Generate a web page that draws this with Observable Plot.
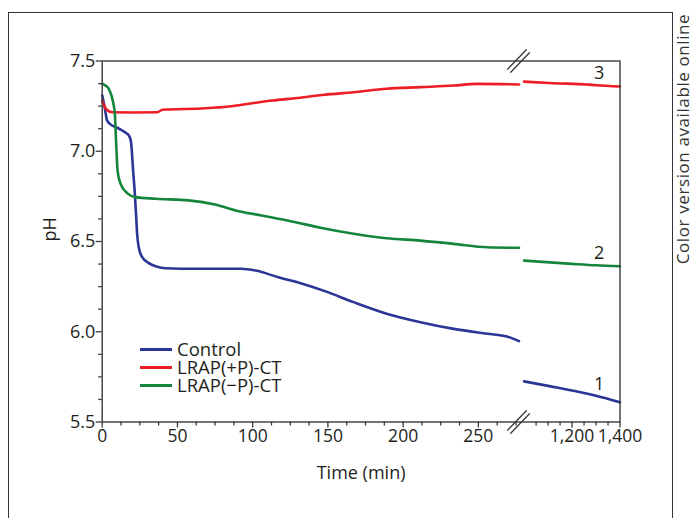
<!DOCTYPE html>
<html>
<head>
<meta charset="utf-8">
<script src="https://cdn.jsdelivr.net/npm/d3@7"></script>
<script src="https://cdn.jsdelivr.net/npm/@observablehq/plot@0.6"></script>
<style>
  html, body { margin: 0; padding: 0; background: #fff; }
  #wrap { position: relative; width: 693px; height: 518px; overflow: hidden; font-family: "Open Sans", sans-serif; color: #231f20; }
  #outer { position: absolute; left: 8px; top: 12px; width: 665px; height: 620px; border: 1.3px solid #333; box-sizing: border-box; }
  #side { position: absolute; left: 682px; top: 139px; transform: translate(-50%, -50%) rotate(-90deg); white-space: nowrap; font-size: 17px; letter-spacing: 0.6px; color: #333; }
  #legend { position: absolute; left: 140px; top: 340px; font-size: 18.5px; line-height: 18px; }
  #legend .row { display: flex; align-items: center; height: 18px; }
  #legend .sw { width: 32px; height: 3px; margin-right: 5px; }
  #chart { position: absolute; left: 0; top: 0; }
</style>
</head>
<body>
<div id="wrap">
  <div id="outer"></div>
  <div id="chart"></div>
  <div id="side">Color version available online</div>
  <div id="legend"></div>
</div>
<script>
// ---- data ----
const seriesNames = ["Control", "LRAP(+P)-CT", "LRAP(\u2212P)-CT"];
const seriesColors = ["#2b3595", "#ee1c25", "#16853c"];
const curveLabels = ["1", "3", "2"];

const controlTime = [0, 1.5, 3.3, 6.6, 10, 13.3, 16, 17.7, 19, 19.5, 20.4, 21.7, 22.6, 23.2, 24.5, 26.6, 31, 36, 42, 62, 92, 102, 117, 133, 148, 167, 189, 211.5, 233.6, 256, 269, 277];
const controlPH   = [7.31, 7.25, 7.17, 7.143, 7.13, 7.115, 7.10, 7.087, 7.06, 7.023, 6.91, 6.764, 6.635, 6.543, 6.46, 6.413, 6.38, 6.362, 6.352, 6.349, 6.349, 6.339, 6.302, 6.266, 6.225, 6.164, 6.10, 6.053, 6.016, 5.989, 5.974, 5.948];
const controlTimeLate = [1000, 1100, 1235, 1300, 1400];
const controlPHLate   = [5.725, 5.70, 5.665, 5.645, 5.609];

const plusTime = [0, 1.5, 3, 6.6, 20, 36.5, 40, 68.6, 84, 99.6, 113, 128, 148, 167, 189, 211.5, 233.6, 249, 277];
const plusPH   = [7.28, 7.25, 7.23, 7.216, 7.215, 7.216, 7.23, 7.238, 7.248, 7.266, 7.281, 7.294, 7.313, 7.327, 7.346, 7.355, 7.364, 7.373, 7.37];
const plusTimeLate = [1000, 1123, 1262, 1300, 1400];
const plusPHLate   = [7.386, 7.377, 7.37, 7.366, 7.359];

const minusTime = [0, 2, 4.4, 7, 8.4, 9.3, 10.2, 12.2, 16.6, 22.1, 35.4, 57.5, 75, 88.6, 106, 117, 124, 145, 167, 189, 211.5, 233.6, 256, 277];
const minusPH   = [7.374, 7.365, 7.346, 7.281, 7.207, 7.041, 6.893, 6.82, 6.768, 6.746, 6.737, 6.728, 6.705, 6.672, 6.644, 6.626, 6.615, 6.576, 6.543, 6.518, 6.505, 6.487, 6.468, 6.465];
const minusTimeLate = [1000, 1200, 1300, 1400];
const minusPHLate   = [6.394, 6.376, 6.368, 6.363];

const xDomain = [0, 278, 985, 1400];      // broken time axis (min)
const yDomain = [5.5, 7.5];
const xMajorTicks = [0, 50, 100, 150, 200, 250, 1200, 1400];
const xMinorTicks = [12.5, 25, 37.5, 62.5, 75, 87.5, 112.5, 125, 137.5, 162.5, 175, 187.5, 212.5, 225, 237.5, 262.5, 275, 1050, 1100, 1150, 1250, 1300, 1350];
const yMajorTicks = [5.5, 6.0, 6.5, 7.0, 7.5];
const yMinorTicks = [5.625, 5.75, 5.875, 6.125, 6.25, 6.375, 6.625, 6.75, 6.875, 7.125, 7.25, 7.375];

// ---- build table ----
const groups = [
  [seriesNames[0], controlTime, controlPH, controlTimeLate, controlPHLate, curveLabels[0]],
  [seriesNames[1], plusTime, plusPH, plusTimeLate, plusPHLate, curveLabels[1]],
  [seriesNames[2], minusTime, minusPH, minusTimeLate, minusPHLate, curveLabels[2]]
];
const rows = [];
const labelRows = [];
for (const [name, t1, p1, t2, p2, lab] of groups) {
  t1.forEach((t, i) => rows.push({series: name, seg: name + "-a", t, ph: p1[i]}));
  t2.forEach((t, i) => rows.push({series: name, seg: name + "-b", t, ph: p2[i]}));
  const k = t2.indexOf(1300);
  labelRows.push({t: t2[k], ph: p2[k], text: lab});
}
const breaks = [{t: xDomain[1], ph: yDomain[1]}, {t: xDomain[1], ph: yDomain[0]}];

const axisColor = "#3a3a3a";
const W = 693, H = 518;
const pLeft = 101.7, pRight = 619.5, pTop = 60.5, pBottom = 421.5, pBreak = 520;

const chart = Plot.plot({
  width: W, height: H,
  marginLeft: pLeft, marginRight: W - pRight, marginTop: pTop, marginBottom: H - pBottom,
  style: {fontFamily: "Open Sans, sans-serif", background: "transparent", color: "#231f20"},
  x: {type: "linear", domain: xDomain, range: [pLeft, pBreak, pBreak, pRight]},
  y: {domain: yDomain},
  color: {domain: seriesNames, range: seriesColors},
  marks: [
    Plot.lineY(rows, {x: "t", y: "ph", z: "seg", stroke: "series", strokeWidth: 2.6, curve: "monotone-x"}),
    Plot.frame({stroke: axisColor, strokeWidth: 1.4}),
    Plot.axisX({ticks: xMinorTicks, tickSize: 4, text: null, label: null, stroke: axisColor, strokeWidth: 1.3}),
    Plot.axisX({ticks: xMajorTicks, tickSize: 6, tickPadding: 2, fontSize: 17.5, label: null, stroke: axisColor, strokeWidth: 1.3, tickFormat: d3.format(",")}),
    Plot.axisY({ticks: yMinorTicks, tickSize: 3.5, text: null, label: null, stroke: axisColor, strokeWidth: 1.3}),
    Plot.axisY({ticks: yMajorTicks, tickSize: 6, tickPadding: 1, fontSize: 18, label: null, stroke: axisColor, strokeWidth: 1.3, tickFormat: d3.format(".1f")}),
    Plot.vector(breaks, {x: "t", y: "ph", length: 27, rotate: 44, anchor: "middle", dx: -2, stroke: axisColor, strokeWidth: 1.3,
      shape: {draw(context, l) { context.moveTo(-2.2, 0); context.lineTo(-2.2, -l); context.moveTo(2.2, 0); context.lineTo(2.2, -l); }}}),
    Plot.text(labelRows, {x: "t", y: "ph", text: "text", dx: 3, dy: -12, fontSize: 18}),
    Plot.text(["pH"], {frameAnchor: "left", dx: -52, rotate: -90, fontSize: 18}),
    Plot.text(["Time (min)"], {frameAnchor: "bottom", dy: 56.5, fontSize: 18})
  ]
});
document.getElementById("chart").appendChild(chart);

const legend = document.getElementById("legend");
seriesNames.forEach((n, i) => {
  const row = document.createElement("div");
  row.className = "row";
  const sw = document.createElement("span");
  sw.className = "sw";
  sw.style.background = seriesColors[i];
  const tx = document.createElement("span");
  tx.textContent = n;
  row.appendChild(sw); row.appendChild(tx);
  legend.appendChild(row);
});
</script>
</body>
</html>
